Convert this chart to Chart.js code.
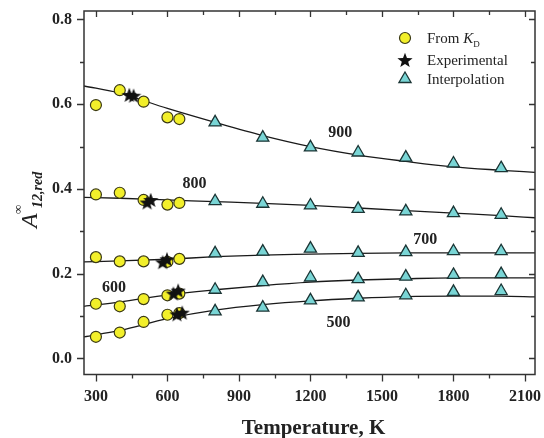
<!DOCTYPE html>
<html><head><meta charset="utf-8">
<script src="https://cdn.jsdelivr.net/npm/chart.js@4.4.1/dist/chart.umd.min.js"></script>
<style>html,body{margin:0;padding:0;background:#fff}</style>
</head><body>
<canvas id="c" width="544" height="438"></canvas>
<script>
// ---------- data ----------
const xTicks = [300, 600, 900, 1200, 1500, 1800, 2100];
const yTicks = [0.0, 0.2, 0.4, 0.6, 0.8];

const tempKD = [300, 400, 500, 600, 650];
const kd900 = [0.598, 0.633, 0.606, 0.569, 0.565];
const kd800 = [0.387, 0.391, 0.374, 0.363, 0.367];
const kd700 = [0.239, 0.229, 0.229, 0.228, 0.235];
const kd600 = [0.129, 0.123, 0.140, 0.149, 0.153];
const kd500 = [0.051, 0.061, 0.086, 0.103, 0.107];

const tempInterp = [800, 1000, 1200, 1400, 1600, 1800, 2000];
const interp900 = [0.557, 0.521, 0.498, 0.486, 0.474, 0.460, 0.449];
const interp800 = [0.371, 0.365, 0.361, 0.353, 0.347, 0.343, 0.339];
const interp700 = [0.248, 0.252, 0.259, 0.249, 0.251, 0.253, 0.253];
const interp600 = [0.162, 0.180, 0.191, 0.187, 0.193, 0.197, 0.199];
const interp500 = [0.111, 0.120, 0.137, 0.144, 0.149, 0.157, 0.159];

const exp900T = [440, 458], exp900 = [0.622, 0.620];
const exp800T = [515, 530], exp800 = [0.368, 0.374];
const exp700T = [580, 598], exp700 = [0.227, 0.234];
const exp600T = [625, 645], exp600 = [0.153, 0.160];
const exp500T = [640, 662], exp500 = [0.104, 0.108];

const fitT   = [250, 400, 600, 800, 1000, 1200, 1400, 1600, 1800, 2000, 2142];
const fit900 = [0.643, 0.626, 0.590, 0.557, 0.526, 0.500, 0.480, 0.465, 0.452, 0.444, 0.439];
const fit800 = [0.380, 0.378, 0.374, 0.370, 0.366, 0.361, 0.355, 0.349, 0.343, 0.337, 0.332];
const fit700 = [0.228, 0.230, 0.234, 0.240, 0.244, 0.246, 0.248, 0.249, 0.249, 0.249, 0.249];
const fit600 = [0.123, 0.133, 0.150, 0.162, 0.172, 0.180, 0.185, 0.188, 0.190, 0.190, 0.190];
const fit500 = [0.051, 0.066, 0.094, 0.114, 0.127, 0.136, 0.142, 0.146, 0.147, 0.147, 0.145];

const curveNames = ['900', '800', '700', '600', '500'];
const legendLabels = ['From K_D', 'Experimental', 'Interpolation'];
const xTitle = 'Temperature, K';

// ---------- styling / layout ----------
const SERIF = '"Liberation Serif", "Times New Roman", serif';
const labelAnchors = { '900': [1325, 0.533], '800': [714, 0.413], '700': [1682, 0.280], '600': [376, 0.166], '500': [1318, 0.084] };

function makeStar(size) {
  const c = document.createElement('canvas');
  c.width = c.height = size;
  const g = c.getContext('2d');
  g.fillStyle = '#111';
  g.beginPath();
  const cx = size / 2, cy = size / 2 + size * 0.04, R = size / 2, r = R * 0.42;
  for (let i = 0; i < 10; i++) {
    const a = -Math.PI / 2 + i * Math.PI / 5;
    const rad = i % 2 ? r : R;
    g.lineTo(cx + rad * Math.cos(a), cy + rad * Math.sin(a));
  }
  g.closePath();
  g.fill();
  return c;
}
const starImg = makeStar(16);

const pts = (xs, ys) => xs.map((x, i) => ({ x, y: ys[i] }));

const series = [
  { kd: kd900, it: interp900, et: exp900T, ev: exp900, fit: fit900 },
  { kd: kd800, it: interp800, et: exp800T, ev: exp800, fit: fit800 },
  { kd: kd700, it: interp700, et: exp700T, ev: exp700, fit: fit700 },
  { kd: kd600, it: interp600, et: exp600T, ev: exp600, fit: fit600 },
  { kd: kd500, it: interp500, et: exp500T, ev: exp500, fit: fit500 },
];

const datasets = [];
series.forEach((s, i) => {
  datasets.push({
    type: 'line', label: 'fit ' + curveNames[i], data: pts(fitT, s.fit),
    borderColor: '#1a1a1a', borderWidth: 1.3, pointRadius: 0, fill: false,
    cubicInterpolationMode: 'monotone', order: 3
  });
  datasets.push({
    type: 'scatter', label: 'KD ' + curveNames[i], data: pts(tempKD, s.kd),
    pointStyle: 'circle', pointRadius: 5.5, backgroundColor: '#f2ef2a',
    borderColor: '#3b3a16', borderWidth: 1.2, order: 2
  });
  datasets.push({
    type: 'scatter', label: 'Interp ' + curveNames[i], data: pts(tempInterp, s.it),
    pointStyle: 'triangle', pointRadius: 7, backgroundColor: '#79d5d5',
    borderColor: '#1b3535', borderWidth: 1.3, order: 2
  });
  datasets.push({
    type: 'scatter', label: 'Exp ' + curveNames[i], data: pts(s.et, s.ev),
    pointStyle: starImg, pointRadius: 8, order: 1
  });
});

const decor = {
  id: 'decor',
  afterDatasetsDraw(chart) {
    const { ctx, chartArea: a, scales: { x, y } } = chart;
    ctx.save();
    ctx.strokeStyle = '#333';
    ctx.lineWidth = 1.5;
    ctx.strokeRect(a.left, a.top, a.right - a.left, a.bottom - a.top);
    ctx.lineWidth = 1.3;
    ctx.beginPath();
    const step = xTicks[1] - xTicks[0];
    for (let v = xTicks[0] - step / 2; v <= 2142; v += step / 2) {
      if (v < 250) continue;
      const major = xTicks.includes(v);
      const px = Math.round(x.getPixelForValue(v)) + 0.5;
      ctx.moveTo(px, a.bottom); ctx.lineTo(px, a.bottom + (major ? 7 : 4));
      ctx.moveTo(px, a.top); ctx.lineTo(px, a.top + (major ? 6 : 4));
    }
    const ys = yTicks[1] - yTicks[0];
    for (let k = -1; k <= 9; k++) {
      const v = k * ys / 2;
      if (v < -0.038 || v > 0.82) continue;
      const major = k % 2 === 0;
      const py = Math.round(y.getPixelForValue(v)) + 0.5;
      ctx.moveTo(a.left, py); ctx.lineTo(a.left - (major ? 7 : 4), py);
      ctx.moveTo(a.right, py); ctx.lineTo(a.right - (major ? 6 : 4), py);
    }
    ctx.stroke();

    // curve labels
    ctx.fillStyle = '#222';
    ctx.font = 'bold 16px ' + SERIF;
    ctx.textAlign = 'center';
    ctx.textBaseline = 'middle';
    curveNames.forEach(n => {
      const [tx, ty] = labelAnchors[n];
      ctx.fillText(n, x.getPixelForValue(tx), y.getPixelForValue(ty));
    });

    // legend
    const lx = 405, tx0 = 427, rows = [38, 60, 79];
    ctx.lineWidth = 1.2;
    ctx.beginPath(); ctx.arc(lx, rows[0], 5.5, 0, Math.PI * 2);
    ctx.fillStyle = '#f2ef2a'; ctx.fill(); ctx.strokeStyle = '#3b3a16'; ctx.stroke();
    ctx.drawImage(starImg, lx - 8, rows[1] - 8);
    ctx.beginPath();
    const r = 7;
    for (let i = 0; i < 3; i++) {
      const ang = i * 2 * Math.PI / 3;
      ctx.lineTo(lx + Math.sin(ang) * r, rows[2] - Math.cos(ang) * r);
    }
    ctx.closePath();
    ctx.fillStyle = '#79d5d5'; ctx.fill(); ctx.strokeStyle = '#1b3535'; ctx.lineWidth = 1.3; ctx.stroke();

    ctx.fillStyle = '#222';
    ctx.textAlign = 'left';
    ctx.textBaseline = 'alphabetic';
    const base = 5;
    const [fromWord, kd] = legendLabels[0].split(' ');
    const [kMain, kSub] = kd.split('_');
    ctx.font = '15px ' + SERIF;
    ctx.fillText(fromWord + ' ', tx0, rows[0] + base);
    let w = ctx.measureText(fromWord + ' ').width;
    ctx.font = 'italic 15px ' + SERIF;
    ctx.fillText(kMain, tx0 + w, rows[0] + base);
    w += ctx.measureText(kMain).width;
    ctx.font = '9px ' + SERIF;
    ctx.fillText(kSub, tx0 + w, rows[0] + base + 4);
    ctx.font = '15px ' + SERIF;
    ctx.fillText(legendLabels[1], tx0, rows[1] + base);
    ctx.fillText(legendLabels[2], tx0, rows[2] + base);

    // x title
    ctx.font = 'bold 21px ' + SERIF;
    ctx.textAlign = 'center';
    ctx.fillText(xTitle, (a.left + a.right) / 2 + 4, 434);

    // y title: A^inf_{12,red}
    ctx.translate(0, 0);
    ctx.rotate(-Math.PI / 2);
    ctx.textAlign = 'left';
    ctx.font = 'italic 24px ' + SERIF;
    ctx.fillText('A', -228, 37);
    ctx.font = '13px ' + SERIF;
    ctx.fillText('\u221E', -214, 22);
    ctx.font = 'bold italic 14px ' + SERIF;
    ctx.fillText('12,red', -208, 42);
    ctx.restore();
  }
};

new Chart(document.getElementById('c'), {
  data: { datasets },
  options: {
    responsive: false,
    animation: false,
    devicePixelRatio: 1,
    layout: { padding: { top: 11, right: 9, left: 0, bottom: 0 } },
    plugins: { legend: { display: false }, tooltip: { enabled: false } },
    scales: {
      x: {
        type: 'linear', min: 250, max: 2142,
        afterBuildTicks: s => { s.ticks = xTicks.map(v => ({ value: v })); },
        afterFit: s => { s.height = 63.5; s.paddingLeft = 0; s.paddingRight = 0; },
        grid: { display: false, drawTicks: false },
        border: { display: false },
        ticks: { color: '#222', font: { family: SERIF, size: 16, weight: 'bold' }, padding: 13, maxRotation: 0, autoSkip: false, callback: v => String(v) }
      },
      y: {
        type: 'linear', min: -0.038, max: 0.82,
        afterBuildTicks: s => { s.ticks = yTicks.map(v => ({ value: v })); },
        afterFit: s => { s.width = 84; s.paddingTop = 0; s.paddingBottom = 0; },
        grid: { display: false, drawTicks: false },
        border: { display: false },
        ticks: { color: '#222', font: { family: SERIF, size: 16, weight: 'bold' }, padding: 12, autoSkip: false, callback: v => v.toFixed(1) }
      }
    }
  },
  plugins: [decor]
});
</script>
</body></html>
